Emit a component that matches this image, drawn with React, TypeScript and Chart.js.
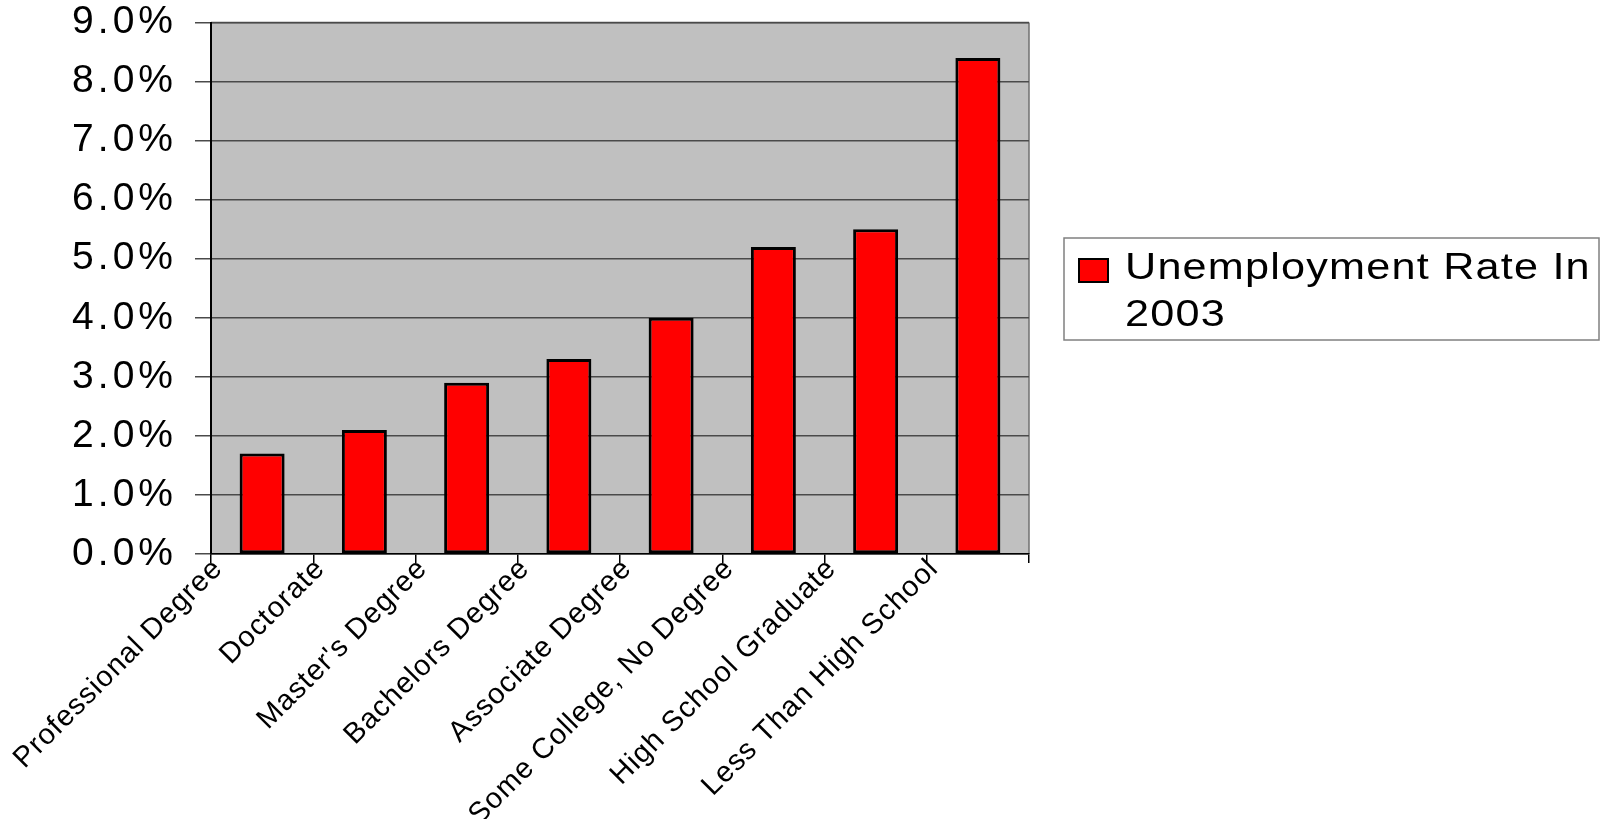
import React, { useEffect, useRef } from 'react';
import { Chart, registerables } from 'chart.js';

Chart.register(...registerables);

const categories = [
  'Professional Degree',
  'Doctorate',
  "Master's Degree",
  'Bachelors Degree',
  'Associate Degree',
  'Some College, No Degree',
  'High School Graduate',
  'Less Than High School',
];
const rates = [1.7, 2.1, 2.9, 3.3, 4.0, 5.2, 5.5, 8.4];
const seriesLabel = 'Unemployment Rate In 2003';
const yMin = 0;
const yMax = 9;
const yStep = 1;

const FONT = '"Liberation Sans", Arial, sans-serif';

export default function App() {
  const ref = useRef<HTMLCanvasElement>(null);

  useEffect(() => {
    const canvas = ref.current;
    if (!canvas) return;

    const decor = {
      id: 'decor',
      beforeDraw(chart: any) {
        const { ctx, chartArea: a } = chart;
        ctx.save();
        ctx.fillStyle = '#C0C0C0';
        ctx.fillRect(a.left, a.top, a.right - a.left, a.bottom - a.top);
        ctx.lineWidth = 1.5;
        ctx.strokeStyle = '#555555';
        ctx.beginPath();
        ctx.moveTo(a.left, a.top);
        ctx.lineTo(a.right, a.top);
        ctx.stroke();
        ctx.strokeStyle = '#707070';
        ctx.beginPath();
        ctx.moveTo(a.right, a.top);
        ctx.lineTo(a.right, a.bottom);
        ctx.stroke();
        ctx.restore();
        ctx.letterSpacing = '1px';
      },
      afterDatasetsDraw(chart: any) {
        chart.ctx.letterSpacing = '4px';
      },
      afterDraw(chart: any) {
        const { ctx, chartArea: a } = chart;
        const ds = chart.data.datasets[0];
        ctx.save();
        ctx.letterSpacing = '1px';
        ctx.font = `36px ${FONT}`;
        const sx = 1.2;
        const bx = a.right + 35;
        const by = 238;
        const bw = 535;
        const bh = 102;
        ctx.fillStyle = '#ffffff';
        ctx.fillRect(bx, by, bw, bh);
        ctx.strokeStyle = '#808080';
        ctx.lineWidth = 1.5;
        ctx.strokeRect(bx, by, bw, bh);
        const words = String(ds.label).split(' ');
        const lines: string[] = [];
        let cur = '';
        const maxW = 480;
        for (const w of words) {
          const t = cur ? cur + ' ' + w : w;
          if (ctx.measureText(t).width * sx > maxW && cur) {
            lines.push(cur);
            cur = w;
          } else cur = t;
        }
        if (cur) lines.push(cur);
        ctx.fillStyle = ds.backgroundColor;
        ctx.fillRect(bx + 15, by + 21, 29, 23);
        ctx.strokeStyle = '#000';
        ctx.lineWidth = 2;
        ctx.strokeRect(bx + 15, by + 21, 29, 23);
        ctx.fillStyle = '#000';
        ctx.textBaseline = 'alphabetic';
        ctx.textAlign = 'left';
        lines.forEach((ln, i) => {
          ctx.save();
          ctx.translate(bx + 61, by + 41 + i * 47);
          ctx.scale(sx, 1);
          ctx.fillText(ln, 0, 0);
          ctx.restore();
        });
        ctx.restore();
        ctx.letterSpacing = '0px';
      },
    };

    const chart = new Chart(canvas, {
      type: 'bar',
      data: {
        labels: categories,
        datasets: [
          {
            label: seriesLabel,
            data: rates,
            backgroundColor: '#FF0000',
            borderColor: '#000000',
            borderWidth: 3,
            borderSkipped: false,
            barPercentage: 0.44,
            categoryPercentage: 1,
          },
        ],
      },
      options: {
        animation: false,
        responsive: true,
        maintainAspectRatio: false,
        layout: { padding: { left: 0, top: 22.5, right: 578, bottom: 0 } },
        plugins: {
          legend: { display: false },
          tooltip: { enabled: false },
        },
        scales: {
          x: {
            offset: true,
            grid: {
              offset: true,
              drawOnChartArea: false,
              drawTicks: true,
              tickLength: 9,
              color: '#000000',
              lineWidth: 1.5,
            },
            border: { display: true, color: '#000000', width: 1.5 },
            ticks: {
              autoSkip: false,
              minRotation: 45,
              maxRotation: 45,
              labelOffset: -44,
              padding: -11,
              color: '#000000',
              font: { family: FONT, size: 29 },
            },
            afterFit(scale: any) {
              scale.height = 265;
              scale.paddingLeft = 0;
              scale.paddingRight = 0;
            },
          },
          y: {
            min: yMin,
            max: yMax,
            grid: {
              color: '#4a4a4a',
              lineWidth: 1.5,
              drawTicks: true,
              tickLength: 16,
            },
            border: { display: true, color: '#000000', width: 2 },
            ticks: {
              stepSize: yStep,
              padding: 18,
              color: '#000000',
              z: 1,
              font: { family: FONT, size: 39 },
              callback: (v: any) => Number(v).toFixed(1) + '%',
            },
            afterFit(scale: any) {
              scale.width = 211;
              scale.paddingTop = 0;
              scale.paddingBottom = 0;
            },
          },
        },
      },
      plugins: [decor],
    });

    return () => chart.destroy();
  }, []);

  return (
    <div style={{ position: 'fixed', left: 0, top: 0, width: 1607, height: 819, background: '#fff' }}>
      <canvas ref={ref} />
    </div>
  );
}
